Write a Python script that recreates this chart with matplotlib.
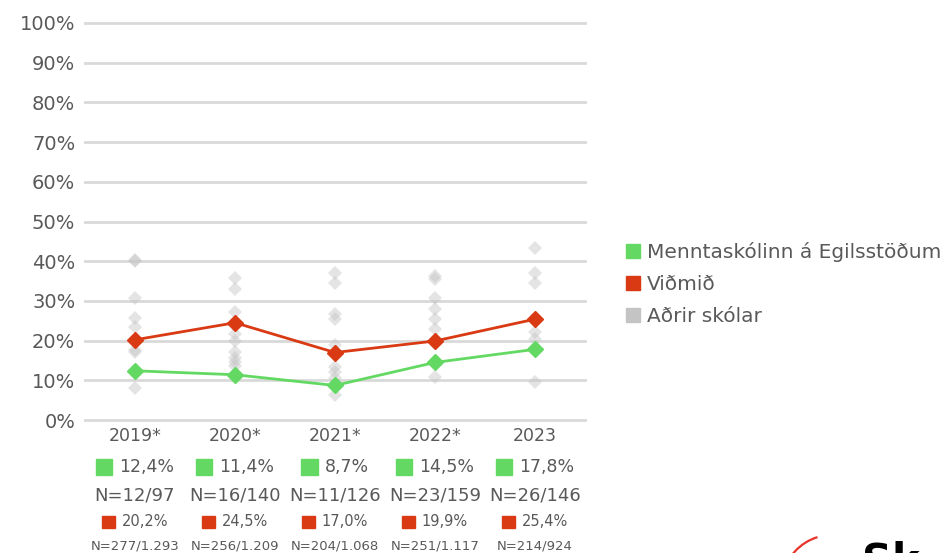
# Hlutfall nemenda - Menntaskólinn á Egilsstöðum vs viðmið og aðrir skólar
import numpy as np
import matplotlib
matplotlib.use('Agg')
import matplotlib.pyplot as plt
from matplotlib.lines import Line2D
from matplotlib.patches import Rectangle, Arc
from matplotlib.offsetbox import AnnotationBbox, HPacker, TextArea, DrawingArea
from matplotlib.transforms import blended_transform_factory

plt.rcParams['font.family'] = ['DejaVu Sans']

years = ['2019*', '2020*', '2021*', '2022*', '2023']
school = [12.4, 11.4, 8.7, 14.5, 17.8]
school_n = ['N=12/97', 'N=16/140', 'N=11/126', 'N=23/159', 'N=26/146']
benchmark = [20.2, 24.5, 17.0, 19.9, 25.4]
benchmark_n = ['N=277/1.293', 'N=256/1.209', 'N=204/1.068', 'N=251/1.117', 'N=214/924']
# aðrir skólar, lesið af myndinni
others = [
    [40.4, 40.0, 30.8, 25.6, 23.5, 17.6, 17.2, 8.1],
    [35.8, 32.9, 27.1, 24.0, 21.7, 20.0, 17.1, 15.5, 14.5, 13.7],
    [37.1, 34.6, 26.7, 25.4, 18.8, 13.3, 12.1, 10.5, 6.3],
    [36.3, 35.4, 30.8, 27.9, 25.4, 22.9, 19.5, 10.8],
    [43.3, 37.1, 34.6, 22.1, 20.5, 9.6],
]
legend_labels = ['Menntaskólinn á Egilsstöðum', 'Viðmið', 'Aðrir skólar']

green = '#63d963'
red = '#d93a14'
gray = '#c4c4c4'
txt = '#595959'

W, H = 950, 553
fig = plt.figure(figsize=(9.5, 5.53), dpi=100)
ax = fig.add_axes([85 / W, 1 - 420 / H, 500 / W, 397 / H])

x = np.arange(len(years))
for i, vals in enumerate(others):
    ax.plot([i] * len(vals), vals, linestyle='', marker='D', markersize=7,
            color=gray, alpha=0.45, markeredgewidth=0, zorder=2)
ax.plot(x, benchmark, color=red, marker='D', markersize=8, linewidth=2, zorder=4)
ax.plot(x, school, color=green, marker='D', markersize=8, linewidth=2, zorder=4)

ax.set_xlim(-0.5, 4.5)
ax.set_ylim(0, 100)
ax.set_yticks(np.arange(0, 101, 10))
ax.set_yticklabels([f'{v}%' for v in range(0, 101, 10)])
ax.set_xticks(x)
ax.set_xticklabels(years)
ax.tick_params(length=0, colors=txt, labelsize=12.5)
ax.tick_params(axis='y', pad=7, labelsize=14)
ax.tick_params(axis='x', pad=5)
ax.grid(axis='y', color='#d9d9d9', linewidth=2, clip_on=False)
ax.set_axisbelow(True)
for s in ax.spines.values():
    s.set_visible(False)

# tafla undir ásnum
tr = blended_transform_factory(ax.transData, fig.transFigure)


def cell(xi, py, color, label, size, fs):
    da = DrawingArea(size, size, 0, 0)
    da.add_artist(Rectangle((0, 0), size, size, color=color))
    ta = TextArea(label, textprops=dict(color=txt, fontsize=fs))
    box = HPacker(children=[da, ta], align='center', pad=0, sep=5)
    ab = AnnotationBbox(box, (xi, 1 - py / H), xycoords=tr, frameon=False,
                        box_alignment=(0.5, 0.5), pad=0, annotation_clip=False)
    ax.add_artist(ab)


for i in range(len(years)):
    cell(i, 467, green, f'{school[i]:.1f}%'.replace('.', ','), 12, 12.5)
    ax.text(i, 1 - 495 / H, school_n[i], transform=tr, ha='center', va='center',
            fontsize=13, color=txt)
    cell(i, 522, red, f'{benchmark[i]:.1f}%'.replace('.', ','), 9, 10.5)
    ax.text(i, 1 - 546 / H, benchmark_n[i], transform=tr, ha='center', va='center',
            fontsize=9.5, color=txt)

handles = [Line2D([], [], linestyle='', marker='s', markersize=10, color=c)
           for c in [green, red, gray]]
fig.legend(handles, legend_labels, loc='center left', bbox_to_anchor=(616 / W, 1 - 284 / H),
           frameon=False, fontsize=14.5, labelcolor=txt, handlelength=0.7,
           handletextpad=0.35, labelspacing=0.65, borderpad=0)

# lógó neðst til hægri, skorið af
fig.add_artist(Arc((832 / W, 1 - 585 / H), 100 / W, 100 / H, theta1=100, theta2=160,
                   color='#e8342c', linewidth=1.6, transform=fig.transFigure))
fig.text(862 / W, 1 - 541 / H, 'Sk', fontsize=30, fontweight='bold', color='black',
         va='top', ha='left')

fig.savefig('out.png', dpi=100)
